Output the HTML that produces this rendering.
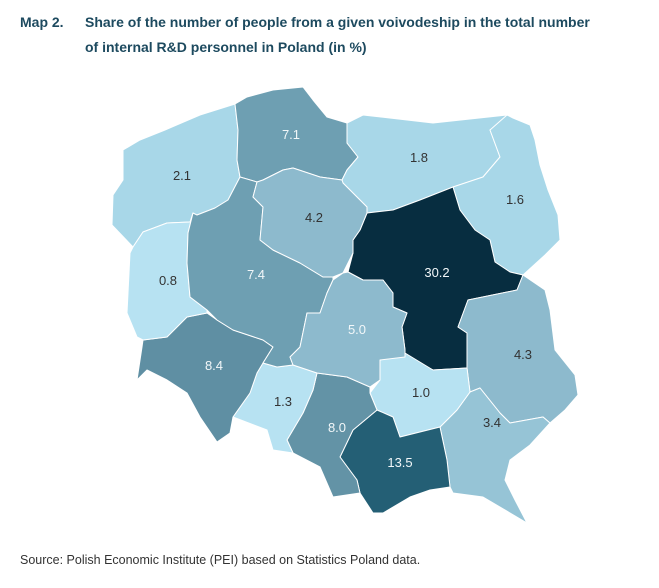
<!DOCTYPE html>
<html><head><meta charset="utf-8"><style>
body{margin:0;width:659px;height:588px;background:#fff;font-family:"Liberation Sans",sans-serif;position:relative;overflow:hidden}
.t{position:absolute;color:#1d4a5f;font-weight:bold;font-size:14px;line-height:25px}
.s{position:absolute;left:20px;top:553px;font-size:12.5px;color:#333}
svg{position:absolute;left:0;top:0}
svg polygon{stroke:#fff;stroke-width:1;stroke-linejoin:round}
svg text{font-family:"Liberation Sans",sans-serif;font-size:13px;text-anchor:middle}
</style></head><body>
<div class="t" style="left:20px;top:10px">Map 2.</div>
<div class="t" style="left:85px;top:10px">Share of the number of people from a given voivodeship in the total number<br>of internal R&amp;D personnel in Poland (in %)</div>
<svg width="659" height="588" viewBox="0 0 659 588">
<polygon fill="#a8d7e8" points="123,150 140,140 165,130 200,115 235,104 238,130 237,160 240,177 228,200 215,208 197,215 190,222 167,223 143,232 133,247 112,225 113,195 123,180"/>
<polygon fill="#6e9fb2" points="235,104 247,97 273,90 303,87 313,100 327,117 347,123 347,143 358,157 347,170 342,180 320,177 293,168 283,170 263,180 257,182 240,177 237,160 238,130"/>
<polygon fill="#a8d7e8" points="347,123 363,115 433,123 507,115 513,120 490,130 500,157 483,177 453,187 420,200 393,210 367,213 367,207 343,183 342,180 347,170 358,157 347,143"/>
<polygon fill="#a8d7e8" points="507,115 513,118 530,125 535,140 540,165 548,190 558,215 560,240 545,255 523,275 510,272 495,262 490,240 475,230 460,210 453,187 483,177 500,157 490,130"/>
<polygon fill="#072d40" points="453,187 460,210 475,230 490,240 495,262 510,272 523,275 517,290 468,300 458,327 467,333 467,368 433,370 405,357 405,350 402,327 407,313 393,307 393,293 383,280 363,280 348,272 353,253 353,240 360,230 367,213 393,210 420,200"/>
<polygon fill="#8dbacd" points="523,275 545,290 550,310 555,350 575,375 578,395 565,410 550,423 543,417 510,423 500,413 480,388 470,392 467,368 467,333 458,327 468,300 517,290"/>
<polygon fill="#96c4d6" points="470,392 480,388 500,413 510,423 543,417 550,423 530,445 510,460 505,480 515,500 527,523 483,497 453,493 450,487 447,460 440,427 457,410"/>
<polygon fill="#b7e2f2" points="380,360 405,353 433,370 467,368 470,392 457,410 440,427 400,437 393,417 377,410 370,393 380,380"/>
<polygon fill="#245f75" points="377,410 393,417 400,437 440,427 447,460 450,487 430,490 410,497 383,513 373,513 360,493 357,480 340,457 353,430"/>
<polygon fill="#6393a6" points="317,373 347,377 370,387 370,393 377,410 353,430 340,457 357,480 360,493 333,497 320,467 293,453 287,440 303,413 313,390"/>
<polygon fill="#b7e2f2" points="263,363 277,367 293,365 317,373 313,390 303,413 287,440 293,453 273,450 267,430 233,417 250,393 257,373"/>
<polygon fill="#5f8fa3" points="143,340 167,337 187,317 207,313 217,320 233,330 263,340 273,347 263,363 257,373 250,393 233,417 230,433 217,442 200,417 187,393 167,380 147,370 137,380 142,347"/>
<polygon fill="#b7e2f2" points="133,247 143,232 167,223 190,222 193,213 188,233 187,263 190,297 207,310 207,313 187,317 167,337 143,340 137,337 127,313 130,253"/>
<polygon fill="#6e9fb2" points="240,177 257,182 253,197 263,207 260,240 273,250 300,263 323,277 333,277 333,280 327,293 320,313 307,313 300,347 290,357 293,365 277,367 263,363 273,347 263,340 233,330 217,320 207,310 190,297 187,263 188,233 193,213 197,215 215,208 228,200"/>
<polygon fill="#8dbacd" points="257,182 263,180 283,170 293,168 320,177 342,180 343,183 367,207 367,213 360,230 353,240 353,253 343,273 333,277 323,277 300,263 273,250 260,240 263,207 253,197"/>
<polygon fill="#8dbacd" points="333,280 343,273 348,272 363,280 383,280 393,293 393,307 407,313 402,327 405,350 405,357 380,360 380,380 370,387 347,377 317,373 293,365 290,357 300,347 307,313 320,313 327,293"/>
<g fill="#333">
<text x="182" y="180">2.1</text><text x="419" y="162">1.8</text><text x="515" y="204">1.6</text>
<text x="314" y="222">4.2</text><text x="168" y="285">0.8</text><text x="523" y="359">4.3</text>
<text x="283" y="406">1.3</text><text x="421" y="397">1.0</text><text x="492" y="427">3.4</text>
</g>
<g fill="#f2f7f9">
<text x="291" y="139">7.1</text><text x="256" y="279">7.4</text><text x="437" y="277">30.2</text>
<text x="357" y="334">5.0</text><text x="214" y="370">8.4</text><text x="337" y="432">8.0</text><text x="400" y="467">13.5</text>
</g>
</svg>
<div class="s">Source: Polish Economic Institute (PEI) based on Statistics Poland data.</div>
</body></html>
